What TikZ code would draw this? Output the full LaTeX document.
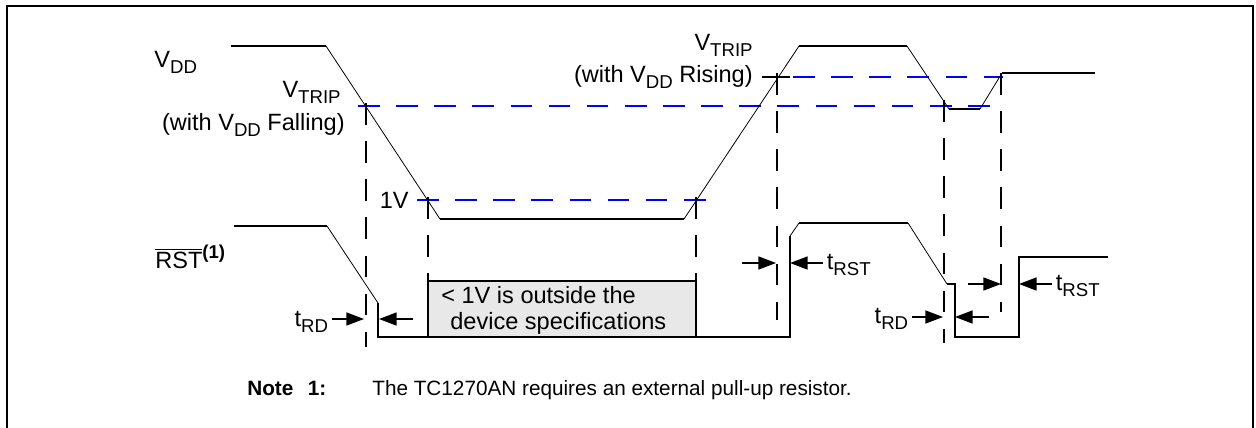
\documentclass[tikz,border=0pt]{standalone}
\usepackage{fontspec}
\setmainfont{Liberation Sans}
\usetikzlibrary{arrows.meta}
\newcommand{\dn}[1]{\raisebox{-3.8pt}{\fontsize{10.6}{11}\selectfont #1}}
\newcommand{\up}[1]{\raisebox{5.5pt}{\fontsize{10.6}{11}\selectfont\bfseries #1}}
\begin{document}
\begin{tikzpicture}[x=0.02cm, y=-0.02cm,
  every node/.style={inner sep=0pt, font=\fontsize{13.4}{15}\selectfont},
  flat/.style={line width=0.8pt},
  ramp/.style={line width=0.45pt},
  vtrip/.style={blue, line width=0.75pt, dash pattern=on 12.3pt off 9.4pt},
  guide/.style={line width=0.75pt, dash pattern=on 12.3pt off 9.4pt},
  tarrow/.style={line width=0.75pt, -{Triangle[length=10pt, width=7.4pt]}},
  tlab/.style={inner xsep=2pt},
  notetext/.style={font=\fontsize{11.8}{14}\selectfont}]
  \useasboundingbox (0,0) rectangle (1256,427);
  \draw[line width=0.75pt] (7,440) -- (7,6) -- (1253,6) -- (1253,440);

  % labels
  \node[anchor=base west] (vdd) at (154,67) {V\dn{DD}};
  \node[anchor=base east] (tripF) at (341,97) {V\dn{TRIP}};
  \node[anchor=base east] (withF) at (345,130) {(with V\dn{DD} Falling)};
  \node[anchor=base east] (oneV) at (409,208) {1V};
  \node[anchor=base east] (tripR) at (753,50) {V\dn{TRIP}};
  \node[anchor=base east] (withR) at (753,82) {(with V\dn{DD} Rising)};
  \node[anchor=base west] (rst) at (155,268) {$\overline{\mbox{RST}}$\up{(1)}};

  % grey region
  \draw[flat, fill=gray!18] (428,337) rectangle (696,281);
  \node[anchor=base west] (boxA) at (441,303) {< 1V is outside the};
  \node[anchor=base west] (boxB) at (450,329) {device specifications};

  % trip levels
  \draw[vtrip] (358,106) -- (1003,106);
  \draw[vtrip] (417,200) -- (710,200);
  \draw[line width=0.75pt] (762,77) -- (790,77);
  \draw[vtrip] (793,77) -- (1003,77);
  \foreach \x/\a/\b in {366/103/347, 428/197/281, 696/197/281, 777/73/320, 944/100/343, 1001/73/312}
    \draw[guide] (\x,\a) -- (\x,\b);

  % VDD
  \draw[flat] (231,46) -- (326,46);
  \draw[ramp] (326,46) -- (440,219);
  \draw[flat] (440,219) -- (684,219);
  \draw[ramp] (684,219) -- (799,46);
  \draw[flat] (799,46) -- (907,46);
  \draw[ramp] (907,46) -- (949,109);
  \draw[flat] (949,109) -- (980,109);
  \draw[ramp] (980,109) -- (1002,73);
  \draw[flat] (1002,73) -- (1095,73);

  % RST
  \draw[flat] (234,226) -- (327,226);
  \draw[ramp] (327,226) -- (378,303);
  \draw[flat] (378,303) -- (378,337) -- (790,337) -- (790,236);
  \draw[ramp] (790,236) -- (799,223);
  \draw[flat] (799,223) -- (908,223);
  \draw[ramp] (908,223) -- (947,284);
  \draw[flat] (947,284) -- (955,284) -- (955,337) -- (1019,337) -- (1019,257) -- (1108,257);

  % timing arrows
  \coordinate (rdA) at (364,319);
  \coordinate (rdB) at (379,319);
  \coordinate (rdBt) at (413,319);
  \node[tlab, anchor=east] (trdA) at (332,322) {t\dn{RD}};
  \draw[tarrow] (trdA.east |- rdA) -- (rdA);
  \draw[tarrow] (rdBt) -- (rdB);

  \coordinate (rsA) at (776,263);
  \coordinate (rsAt) at (742,263);
  \coordinate (rsB) at (790,263);
  \node[tlab, anchor=west] (trsA) at (823,265) {t\dn{RST}};
  \draw[tarrow] (rsAt) -- (rsA);
  \draw[tarrow] (trsA.west |- rsB) -- (rsB);

  \coordinate (rdC) at (943,317);
  \coordinate (rdD) at (955,317);
  \coordinate (rdDt) at (989,317);
  \node[tlab, anchor=east] (trdB) at (912,319) {t\dn{RD}};
  \draw[tarrow] (trdB.east |- rdC) -- (rdC);
  \draw[tarrow] (rdDt) -- (rdD);

  \coordinate (rsC) at (1001,284);
  \coordinate (rsCt) at (968,284);
  \coordinate (rsD) at (1019,284);
  \node[tlab, anchor=west] (trsB) at (1052,286) {t\dn{RST}};
  \draw[tarrow] (rsCt) -- (rsC);
  \draw[tarrow] (trsB.west |- rsD) -- (rsD);

  % note
  \node[notetext, anchor=base west] (note) at (247,395) {\textbf{Note\hspace{0.7em}1:}};
  \node[notetext, anchor=base west] (noteT) at (372,395) {The TC1270AN requires an external pull-up resistor.};
\end{tikzpicture}
\end{document}
